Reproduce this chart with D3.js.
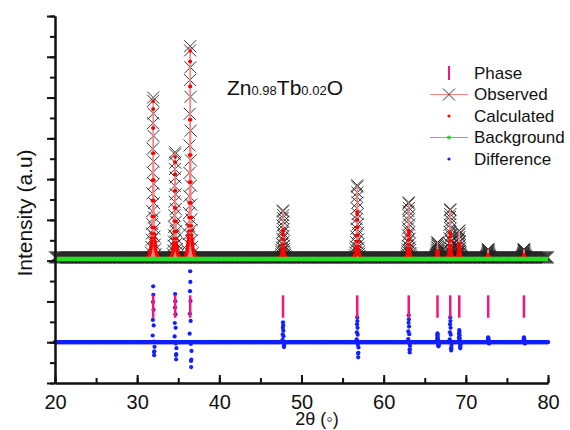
<!DOCTYPE html>
<html>
<head>
<meta charset="utf-8">
<style>
  body { margin: 0; background: #fff; }
  svg text { font-family: 'Liberation Sans', Arial, sans-serif; fill: #111; }
  .axis path, .axis line { stroke: #111; stroke-width: 2; }
  .axis text { font-size: 20px; fill: #111; }
</style>
</head>
<body>
<div id="chart"></div>
<script src="https://d3js.org/d3.v7.min.js"></script>
<script>
  // reflections of the refined phase (deg 2theta) and intensities (counts)
  var peakPos    = [31.95, 34.62, 36.45, 47.75, 56.78, 63.05, 66.55, 68.10, 69.20, 72.72, 77.07];
  var obsHeight  = [3920, 2580, 5180, 1150, 1770, 1350, 370, 1180, 660, 200, 200];
  var calcHeight = [3870, 2500, 5100, 720, 1160, 700, 200, 660, 380, 100, 100];
  var diffUp     = [1370, 1180, 1740, 490, 610, 660, 220, 610, 300, 120, 120];
  var diffDown   = [320, 420, 610, 120, 370, 250, 100, 200, 150, 30, 30];

  // observed points around a peak: offset from centre (deg) and fraction of peak height
  var obsShapeOffset = [-0.28, -0.22, -0.18, -0.15, -0.13, -0.11, -0.09, -0.07, -0.05, -0.03, -0.01,
                        0, 0.02, 0.04, 0.06, 0.08, 0.10, 0.12, 0.14, 0.16, 0.20, 0.24, 0.30];
  var obsShapeLevel  = [0.03, 0.065, 0.11, 0.15, 0.21, 0.29, 0.40, 0.53, 0.68, 0.84, 0.98,
                        1, 0.90, 0.76, 0.60, 0.46, 0.34, 0.25, 0.18, 0.13, 0.08, 0.05, 0.02];

  // calculated profile, one side (mirrored)
  var calcShapeOffset = [0, 0.02, 0.04, 0.06, 0.08, 0.10, 0.12, 0.14, 0.16, 0.18, 0.20, 0.22, 0.24,
                         0.26, 0.28, 0.30, 0.34, 0.38, 0.42, 0.46, 0.50, 0.60, 0.70, 0.80];
  var calcShapeLevel  = [1, 0.95, 0.83, 0.67, 0.50, 0.37, 0.27, 0.20, 0.16, 0.135, 0.115, 0.10, 0.088,
                         0.078, 0.070, 0.062, 0.050, 0.040, 0.032, 0.026, 0.020, 0.012, 0.007, 0.003];

  // difference spike around a peak
  var diffShapeOffset = [-0.06, -0.04, -0.02, 0, 0.02, 0.04, 0.06, 0.08, 0.10, 0.12, 0.14, 0.16];
  var diffShapeUp     = [0.12, 0.40, 0.72, 1, 0.85, 0.58, 0.30, 0.08, 0, 0, 0, 0];
  var diffShapeDown   = [0, 0, 0, 0, 0, 0, 0, 0.30, 0.75, 1, 0.70, 0.35];

  var bgTheta = [20, 80];
  var bgLevel = [40, 40];
  var obsBase = 80;
  var diffOffset = -2000;
  var phaseTop = -850, phaseBottom = -1400;
  var scanStart = 20, scanEnd = 80, scanStep = 0.1;

  var xTicks = [20, 30, 40, 50, 60, 70, 80];
  var legendLabels = ["Phase", "Observed", "Calculated", "Background", "Difference"];

  var width = 570, height = 430;

  var svg = d3.select("#chart").append("svg")
    .attr("width", width)
    .attr("height", height);

  var x = d3.scaleLinear().domain([20, 80]).range([55, 548]);
  var y = d3.scaleLinear().domain([-3000, 6000]).range([383, 16]);
  var bg = d3.scaleLinear().domain(bgTheta).range(bgLevel);

  // observed series: scan baseline + points on the peaks
  var obs = d3.range(scanStart, scanEnd + 1e-9, scanStep).map(function(t) { return [t, obsBase]; });
  peakPos.forEach(function(p, i) {
    obsShapeOffset.forEach(function(o, k) {
      obs.push([p + o, obsBase + obsHeight[i] * obsShapeLevel[k]]);
    });
  });
  obs.sort(function(a, b) { return a[0] - b[0]; });

  var calc = [];
  peakPos.forEach(function(p, i) {
    calcShapeOffset.forEach(function(o, k) {
      calc.push([p + o, bg(p + o) + calcHeight[i] * calcShapeLevel[k]]);
      if (o > 0) calc.push([p - o, bg(p - o) + calcHeight[i] * calcShapeLevel[k]]);
    });
  });

  var diff = d3.range(scanStart, scanEnd + 1e-9, scanStep / 2).map(function(t) { return [t, diffOffset]; });
  peakPos.forEach(function(p, i) {
    diffShapeOffset.forEach(function(o, k) {
      diff.push([p + o, diffOffset + diffUp[i] * diffShapeUp[k] - diffDown[i] * diffShapeDown[k]]);
    });
  });

  var cross = "M-6,-6L6,6M-6,6L6,-6";

  var plot = svg.append("g");

  plot.append("g").selectAll("path")
    .data(obs)
    .enter().append("path")
      .attr("d", cross)
      .attr("transform", function(d) { return "translate(" + x(d[0]) + "," + y(d[1]) + ")"; })
      .attr("fill", "none")
      .attr("stroke", "#222")
      .attr("stroke-width", 0.9);

  plot.append("path")
    .datum(obs)
    .attr("d", d3.line().x(function(d) { return x(d[0]); }).y(function(d) { return y(d[1]); }))
    .attr("fill", "none")
    .attr("stroke", "#ff8080")
    .attr("stroke-width", 1);

  plot.append("g").selectAll("circle")
    .data(calc)
    .enter().append("circle")
      .attr("cx", function(d) { return x(d[0]); })
      .attr("cy", function(d) { return y(d[1]); })
      .attr("r", 1.8)
      .attr("fill", "#ff0000");

  plot.append("path")
    .datum(bgTheta.map(function(t, i) { return [t, bgLevel[i]]; }))
    .attr("d", d3.line().x(function(d) { return x(d[0]); }).y(function(d) { return y(d[1]); }))
    .attr("stroke", "#22e022")
    .attr("stroke-width", 4.5);

  plot.append("g").selectAll("circle")
    .data(diff)
    .enter().append("circle")
      .attr("cx", function(d) { return x(d[0]); })
      .attr("cy", function(d) { return y(d[1]); })
      .attr("r", 2.1)
      .attr("fill", "#1020ff");

  plot.append("g").selectAll("line")
    .data(peakPos)
    .enter().append("line")
      .attr("x1", function(d) { return x(d); })
      .attr("x2", function(d) { return x(d); })
      .attr("y1", y(phaseTop))
      .attr("y2", y(phaseBottom))
      .attr("stroke", "#f5157c")
      .attr("stroke-width", 2.5);

  // axes
  svg.append("g").attr("class", "axis")
    .attr("transform", "translate(0,383)")
    .call(d3.axisBottom(x).tickValues(d3.range(20, 81, 5)).tickSize(-5).tickSizeOuter(0).tickFormat(""));
  svg.append("g").attr("class", "axis")
    .attr("transform", "translate(0,383)")
    .call(d3.axisBottom(x).tickValues(xTicks).tickSize(-8).tickSizeOuter(0).tickPadding(12).tickFormat(d3.format("d")));

  svg.append("g").attr("class", "axis")
    .attr("transform", "translate(55,0)")
    .call(d3.axisLeft(y).tickValues(d3.range(-3000, 6001, 500)).tickSize(5).tickSizeOuter(0).tickFormat(""));
  svg.append("g").attr("class", "axis")
    .attr("transform", "translate(55,0)")
    .call(d3.axisLeft(y).tickValues(d3.range(-3000, 6001, 1000)).tickSize(8).tickSizeOuter(0).tickFormat(""));

  svg.selectAll(".axis text").attr("font-family", "'Liberation Sans', Arial, sans-serif");

  svg.append("text")
    .attr("transform", "translate(32,213) rotate(-90)")
    .attr("text-anchor", "middle")
    .style("font-size", "21px")
    .text("Intensity (a.u)");

  svg.append("text")
    .attr("x", 317).attr("y", 425)
    .attr("text-anchor", "middle")
    .style("font-size", "18px")
    .text("2θ (◦)");

  var title = svg.append("text").attr("x", 227).attr("y", 95).style("font-size", "21px");
  title.append("tspan").text("Zn");
  title.append("tspan").style("font-size", "13px").text("0.98");
  title.append("tspan").text("Tb");
  title.append("tspan").style("font-size", "13px").text("0.02");
  title.append("tspan").text("O");

  // legend
  var legend = svg.append("g").attr("transform", "translate(449,73)");
  var item = legend.selectAll("g")
    .data(legendLabels)
    .enter().append("g")
      .attr("transform", function(d, i) { return "translate(0," + (i * 21.5) + ")"; });

  item.append("text")
    .attr("x", 25).attr("dy", "0.35em")
    .style("font-size", "17px")
    .text(function(d) { return d; });

  item.filter(function(d) { return d === "Phase"; }).append("line")
    .attr("y1", -7).attr("y2", 7)
    .attr("stroke", "#f5157c").attr("stroke-width", 2);

  var obsItem = item.filter(function(d) { return d === "Observed"; });
  obsItem.append("line").attr("x1", -19).attr("x2", 19).attr("stroke", "#ff8080").attr("stroke-width", 1.2);
  obsItem.append("path").attr("d", cross).attr("fill", "none").attr("stroke", "#333").attr("stroke-width", 1);

  item.filter(function(d) { return d === "Calculated"; }).append("circle")
    .attr("r", 1.6).attr("fill", "#ff0000");

  var bgItem = item.filter(function(d) { return d === "Background"; });
  bgItem.append("line").attr("x1", -19).attr("x2", 19).attr("stroke", "#5cbdb3").attr("stroke-width", 1.2);
  bgItem.append("circle").attr("r", 2).attr("fill", "#22e022");

  item.filter(function(d) { return d === "Difference"; }).append("circle")
    .attr("r", 1.6).attr("fill", "#1020ff");
</script>
</body>
</html>
